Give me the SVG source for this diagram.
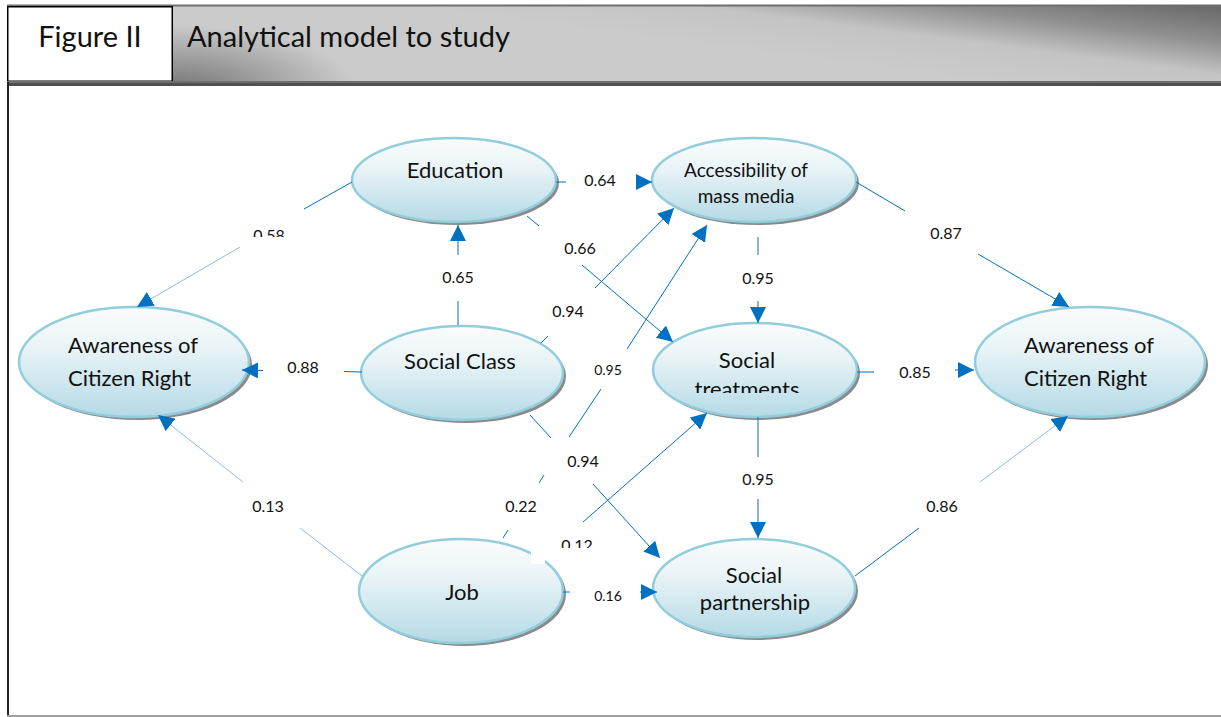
<svg xmlns="http://www.w3.org/2000/svg" width="1221" height="717" viewBox="0 0 1221 717">
  <style>
    .node ellipse.body { fill: url(#nodeFill); stroke: #92CDDC; stroke-width: 2.5; }
    .node ellipse.shadow { fill: #8a8a8a; }
    .node text { font-family: Lato, "Open Sans", sans-serif; font-size: 22px; fill: #111; text-anchor: middle; }
    .node text.small { font-size: 19px; }
    .node text.left { text-anchor: start; }
    #connectors line { stroke: #0070C0; stroke-width: 1; }
    #connectors line.faint { stroke: #8DB9E2; }
    #connectors line.arrow { marker-end: url(#arrow); }
    .lbl { font-family: Lato, "Open Sans", sans-serif; font-size: 16px; fill: #111; text-anchor: middle; }
    .lbl.small { font-size: 14px; }
    .hdr { font-family: Lato, "Open Sans", sans-serif; font-size: 29px; fill: #111; }
  </style>
  <defs>
    <linearGradient id="nodeFill" x1="0" y1="0" x2="0" y2="1">
      <stop offset="0" stop-color="#FAFCFD"/>
      <stop offset="0.35" stop-color="#EAF4F7"/>
      <stop offset="1" stop-color="#B4DAE5"/>
    </linearGradient>
    <linearGradient id="barFill" gradientUnits="userSpaceOnUse" x1="1000" y1="85" x2="1015" y2="-30">
      <stop offset="0" stop-color="#cbcbcb"/>
      <stop offset="0.33" stop-color="#c4c4c4"/>
      <stop offset="0.62" stop-color="#8e8e8e"/>
      <stop offset="1" stop-color="#5e5e5e"/>
    </linearGradient>
    <radialGradient id="barShade" gradientUnits="userSpaceOnUse" cx="175" cy="88" r="150" gradientTransform="translate(175 88) scale(1.2 0.42) translate(-175 -88)">
      <stop offset="0" stop-color="#666666" stop-opacity="0.85"/>
      <stop offset="1" stop-color="#666666" stop-opacity="0"/>
    </radialGradient>
    <marker id="arrow" markerUnits="userSpaceOnUse" markerWidth="17" markerHeight="16" refX="16" refY="8" orient="auto">
      <path d="M0,0 L16,8 L0,16 z" fill="#0070C0"/>
    </marker>
    <clipPath id="clip058"><rect x="240" y="215" width="60" height="22"/></clipPath>
    <clipPath id="clip012"><rect x="550" y="525" width="60" height="23"/></clipPath>
    <clipPath id="clipTreat"><rect x="680" y="375" width="140" height="18"/></clipPath>
  </defs>

  <!-- page background -->
  <rect x="0" y="0" width="1221" height="717" fill="#ffffff"/>

  <!-- title banner -->
  <g id="header">
    <rect x="172" y="6" width="1049" height="76" fill="url(#barFill)"/>
    <rect x="172" y="6" width="1049" height="76" fill="url(#barShade)"/>
    <rect x="7" y="4.5" width="1214" height="2" fill="#6e6e6e"/>
    <rect x="7.75" y="6.75" width="164.5" height="74.5" fill="#ffffff" stroke="#000" stroke-width="1.5"/>
    <text class="hdr" x="90" y="47" text-anchor="middle">Figure II</text>
    <text class="hdr" x="187" y="47">Analytical model to study</text>
    <rect x="7" y="81" width="1214" height="2" fill="#6e6e6e"/>
    <rect x="7" y="83" width="1214" height="3" fill="#505050"/>
  </g>

  <!-- frame -->
  <line x1="8" y1="82" x2="8" y2="716" stroke="#222" stroke-width="2"/>
  <line x1="7" y1="716" x2="1221" y2="716" stroke="#a0a0a0" stroke-width="2"/>

  <!-- nodes -->
  <g id="education" class="node">
    <ellipse class="shadow" cx="457" cy="183" rx="102" ry="42"/>
    <ellipse class="body" cx="454" cy="180" rx="102" ry="42"/>
    <text x="455" y="178">Education</text>
  </g>
  <g id="mass-media" class="node">
    <ellipse class="shadow" cx="757" cy="183" rx="102" ry="42"/>
    <ellipse class="body" cx="754" cy="180" rx="102" ry="42"/>
    <text class="small" x="746" y="177">Accessibility of</text>
    <text class="small" x="746" y="203">mass media</text>
  </g>
  <g id="awareness-left" class="node">
    <ellipse class="shadow" cx="137" cy="365" rx="115" ry="55"/>
    <ellipse class="body" cx="134" cy="362" rx="115" ry="55"/>
    <text class="left" x="68" y="353">Awareness of</text>
    <text class="left" x="68" y="386">Citizen Right</text>
  </g>
  <g id="social-class" class="node">
    <ellipse class="shadow" cx="465" cy="376" rx="101" ry="47"/>
    <ellipse class="body" cx="462" cy="373" rx="101" ry="47"/>
    <text x="460" y="369">Social Class</text>
  </g>
  <g id="social-treatments" class="node">
    <ellipse class="shadow" cx="758" cy="373" rx="102" ry="47"/>
    <ellipse class="body" cx="755" cy="370" rx="102" ry="47"/>
    <text x="747" y="368">Social</text>
    <text x="747" y="397" clip-path="url(#clipTreat)">treatments</text>
  </g>
  <g id="awareness-right" class="node">
    <ellipse class="shadow" cx="1093" cy="365" rx="115" ry="55"/>
    <ellipse class="body" cx="1090" cy="362" rx="115" ry="55"/>
    <text class="left" x="1024" y="353">Awareness of</text>
    <text class="left" x="1024" y="386">Citizen Right</text>
  </g>
  <g id="job" class="node">
    <ellipse class="shadow" cx="464" cy="594" rx="102" ry="52"/>
    <ellipse class="body" cx="461" cy="591" rx="102" ry="52"/>
    <text x="462" y="600">Job</text>
  </g>
  <g id="social-partnership" class="node">
    <ellipse class="shadow" cx="757" cy="591" rx="101" ry="49"/>
    <ellipse class="body" cx="754" cy="588" rx="101" ry="49"/>
    <text x="754" y="583">Social</text>
    <text x="755" y="610">partnership</text>
  </g>

  <!-- connectors, broken where their coefficients sit -->
  <g id="connectors">
    <!-- Education -> Awareness (0.58) -->
    <line x1="352" y1="182" x2="304" y2="209"/>
    <line class="faint arrow" x1="240" y1="247" x2="137" y2="307"/>
    <!-- Social Class -> Education (0.65) -->
    <line x1="458" y1="325" x2="458" y2="301"/>
    <line class="arrow" x1="458" y1="255" x2="458" y2="225"/>
    <!-- Social Class -> Awareness (0.88) -->
    <line x1="362" y1="372" x2="344" y2="371.5"/>
    <line class="arrow" x1="263" y1="370.5" x2="242" y2="370"/>
    <!-- Job -> Awareness (0.13) -->
    <line class="faint" x1="362" y1="576" x2="300" y2="528"/>
    <line class="faint arrow" x1="243" y1="482" x2="158" y2="415"/>
    <!-- Education -> Accessibility of mass media (0.64) -->
    <line x1="556" y1="182" x2="566" y2="182"/>
    <line class="arrow" x1="636" y1="182" x2="652" y2="182"/>
    <!-- Education -> Social treatments (0.66) -->
    <line x1="527" y1="216" x2="539" y2="226"/>
    <line class="arrow" x1="582" y1="265" x2="673" y2="342"/>
    <!-- Social Class -> Accessibility of mass media (0.94) -->
    <line x1="541" y1="343" x2="548" y2="336"/>
    <line class="arrow" x1="595" y1="288" x2="674" y2="208"/>
    <!-- Job -> Accessibility of mass media -->
    <line x1="503" y1="538" x2="508" y2="530"/>
    <line x1="539" y1="483" x2="544" y2="475"/>
    <line x1="569" y1="437" x2="601" y2="389"/>
    <line class="arrow" x1="627" y1="349" x2="707" y2="225"/>
    <!-- Social Class -> Social partnership (0.94) -->
    <line x1="530" y1="415" x2="551" y2="438"/>
    <line class="arrow" x1="593" y1="484" x2="660" y2="558"/>
    <!-- Job -> Social treatments (0.12) -->
    <line class="arrow" x1="583" y1="522" x2="707" y2="413"/>
    <!-- Job -> Social partnership (0.16) -->
    <line x1="563" y1="592" x2="570" y2="592"/>
    <line class="arrow" x1="640" y1="592" x2="657" y2="592"/>
    <!-- Accessibility -> Social treatments (0.95) -->
    <line x1="758" y1="237" x2="758" y2="255"/>
    <line class="arrow" x1="758" y1="301" x2="758" y2="323"/>
    <!-- Social treatments -> Social partnership (0.95) -->
    <line x1="758" y1="417" x2="758" y2="457"/>
    <line class="arrow" x1="758" y1="499" x2="758" y2="538"/>
    <!-- Accessibility -> Awareness (0.87) -->
    <line x1="856" y1="182" x2="905" y2="211"/>
    <line class="arrow" x1="978" y1="254" x2="1069" y2="307"/>
    <!-- Social treatments -> Awareness (0.85) -->
    <line x1="857" y1="372" x2="874" y2="372"/>
    <line class="arrow" x1="955" y1="370" x2="974" y2="370"/>
    <!-- Social partnership -> Awareness (0.86) -->
    <line x1="855" y1="576" x2="919" y2="528"/>
    <line class="faint arrow" x1="980" y1="482" x2="1068" y2="416"/>
  </g>

  <!-- coefficients -->
  <g id="labels">
    <text class="lbl" x="269" y="241" clip-path="url(#clip058)">0.58</text>
    <text class="lbl" x="458" y="283">0.65</text>
    <text class="lbl" x="303" y="373">0.88</text>
    <text class="lbl" x="268" y="512">0.13</text>
    <text class="lbl" x="600" y="186">0.64</text>
    <text class="lbl" x="580" y="254">0.66</text>
    <text class="lbl" x="568" y="317">0.94</text>
    <text class="lbl small" x="608" y="375">0.95</text>
    <text class="lbl" x="583" y="467">0.94</text>
    <text class="lbl" x="521" y="512">0.22</text>
    <rect x="531" y="547" width="14" height="17" fill="#ffffff"/>
    <text class="lbl" x="577" y="551" clip-path="url(#clip012)">0.12</text>
    <text class="lbl small" x="608" y="601">0.16</text>
    <text class="lbl" x="758" y="284">0.95</text>
    <text class="lbl" x="758" y="485">0.95</text>
    <text class="lbl" x="946" y="239">0.87</text>
    <text class="lbl" x="915" y="378">0.85</text>
    <text class="lbl" x="942" y="512">0.86</text>
  </g>
</svg>
